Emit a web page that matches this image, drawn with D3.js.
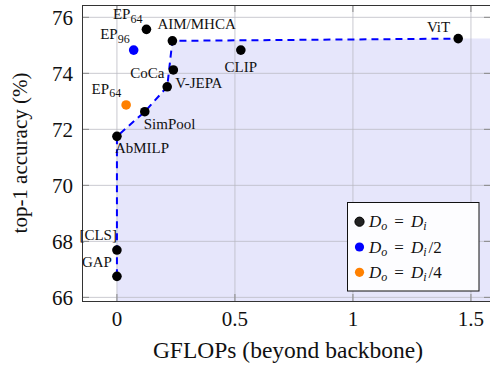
<!DOCTYPE html>
<html>
<head>
<meta charset="utf-8">
<script src="https://cdn.jsdelivr.net/npm/d3@7"></script>
<style>
  html, body { margin: 0; padding: 0; background: #fff; }
  svg { display: block; }
  text { font-family: "Liberation Serif", "Times New Roman", serif; fill: #111; }
</style>
</head>
<body>
<svg id="chart" width="490" height="365"></svg>
<script>
// Pooling methods: extra GFLOPs vs. top-1 accuracy
const names   = ["GAP", "[CLS]", "AbMILP", "SimPool", "V-JEPA", "CoCa", "AIM/MHCA", "CLIP", "ViT", "EP", "EP", "EP"];
const subs    = ["", "", "", "", "", "", "", "", "", "64", "96", "64"];
const gflops  = [0.0, 0.0, 0.0, 0.118, 0.213, 0.239, 0.235, 0.525, 1.446, 0.125, 0.071, 0.039];
const top1    = [66.75, 67.69, 71.75, 72.63, 73.52, 74.12, 75.16, 74.83, 75.24, 75.57, 74.83, 72.87];
const group   = [0, 0, 0, 0, 0, 0, 0, 0, 0, 0, 1, 2];

// Pareto frontier, by index into the arrays above
const frontier = [0, 1, 2, 3, 4, 6, 8];

const xTicks = [0, 0.5, 1, 1.5];
const yTicks = [66, 68, 70, 72, 74, 76];
const legendLabels = [["D", "o", "D", "i", ""], ["D", "o", "D", "i", "/2"], ["D", "o", "D", "i", "/4"]];
const groupColors = ["#000000", "#0000ff", "#ff8000"];

const svg = d3.select("#chart");
const pL = 82, pR = 491, pT = 5, pB = 301;

const x = d3.scaleLinear().domain([-0.148, 1.585]).range([pL, pR]);
const y = d3.scaleLinear().domain([65.87, 76.44]).range([pB, pT]);

svg.append("defs").append("clipPath").attr("id", "plotclip")
  .append("rect").attr("x", pL).attr("y", pT).attr("width", pR - pL).attr("height", pB - pT);

const plot = svg.append("g").attr("clip-path", "url(#plotclip)");

// shaded region under the frontier
const fr = frontier.map(i => [gflops[i], top1[i]]);
const yLow = y.domain()[0], xHigh = x.domain()[1];
const area = [[0, yLow], ...fr, [xHigh, fr[fr.length - 1][1]], [xHigh, yLow]];
plot.append("path")
  .attr("d", d3.line().x(d => x(d[0])).y(d => y(d[1]))(area) + "Z")
  .attr("fill", "#e6e6fb");

// grid
plot.append("g").selectAll("line").data(xTicks).join("line")
  .attr("x1", d => x(d)).attr("x2", d => x(d)).attr("y1", pT).attr("y2", pB)
  .attr("stroke", "#b8b8c0").attr("stroke-opacity", 0.75).attr("stroke-width", 1);
plot.append("g").selectAll("line").data(yTicks).join("line")
  .attr("y1", d => y(d)).attr("y2", d => y(d)).attr("x1", pL).attr("x2", pR)
  .attr("stroke", "#b8b8c0").attr("stroke-opacity", 0.75).attr("stroke-width", 1);

// inward ticks on all four sides
const tl = 7;
const tk = svg.append("g").attr("stroke", "#888").attr("stroke-width", 1);
yTicks.forEach(t => {
  tk.append("line").attr("x1", pL).attr("x2", pL + tl).attr("y1", y(t)).attr("y2", y(t));
  tk.append("line").attr("x1", pR - tl).attr("x2", pR).attr("y1", y(t)).attr("y2", y(t));
});
xTicks.forEach(t => {
  tk.append("line").attr("y1", pB).attr("y2", pB - tl).attr("x1", x(t)).attr("x2", x(t));
  tk.append("line").attr("y1", pT).attr("y2", pT + tl).attr("x1", x(t)).attr("x2", x(t));
});

// frontier line
plot.append("path")
  .attr("d", d3.line().x(d => x(d[0])).y(d => y(d[1]))(fr))
  .attr("fill", "none").attr("stroke", "#0000ff").attr("stroke-width", 2)
  .attr("stroke-dasharray", "7,5");

// frame
svg.append("rect").attr("x", pL + 0.5).attr("y", pT + 0.5)
  .attr("width", pR - pL).attr("height", pB - pT)
  .attr("fill", "none").attr("stroke", "#333").attr("stroke-width", 1);

// points
svg.append("g").selectAll("circle").data(d3.range(names.length)).join("circle")
  .attr("cx", i => x(gflops[i])).attr("cy", i => y(top1[i])).attr("r", 4.8)
  .attr("fill", i => groupColors[group[i]]);

// point labels: [text-anchor, dx, dy (baseline)]
const place = [
  ["end", -5, -9],   // GAP
  ["end", 0, -10],   // [CLS]
  ["start", -2, 17], // AbMILP
  ["start", -1, 17], // SimPool
  ["start", 8, 1],   // V-JEPA
  ["end", -9, 8],    // CoCa
  ["start", -15, -12], // AIM/MHCA
  ["middle", 0, 22], // CLIP
  ["end", -8, -7],   // ViT
  ["end", -4, -10],  // EP64
  ["end", -4, -11],  // EP96
  ["end", -5, -11]   // EP64
];
const lab = svg.append("g").attr("font-size", 15);
d3.range(names.length).forEach(i => {
  const [anchor, dx, dy] = place[i];
  const t = lab.append("text")
    .attr("x", x(gflops[i]) + dx).attr("y", y(top1[i]) + dy)
    .attr("text-anchor", anchor);
  t.append("tspan").text(names[i]);
  if (subs[i]) t.append("tspan").attr("font-size", 12).attr("dy", 3.5).text(subs[i]);
});

// tick labels
svg.append("g").selectAll("text").data(xTicks).join("text")
  .attr("x", d => x(d)).attr("y", 326).attr("text-anchor", "middle")
  .attr("font-size", 21).text(d => d3.format("")(d));
svg.append("g").selectAll("text").data(yTicks).join("text")
  .attr("x", 73).attr("y", d => y(d) + 7.5).attr("text-anchor", "end")
  .attr("font-size", 21).text(d => d);

// axis titles
svg.append("text").attr("x", 288).attr("y", 358).attr("text-anchor", "middle")
  .attr("font-size", 23.5).text("GFLOPs (beyond backbone)");
svg.append("text").attr("transform", "translate(27,153) rotate(-90)")
  .attr("text-anchor", "middle").attr("font-size", 21).text("top-1 accuracy (%)");

// legend
const lg = svg.append("g");
lg.append("rect").attr("x", 347.5).attr("y", 202.5).attr("width", 131.5).attr("height", 88.5)
  .attr("fill", "#fdfdff").attr("stroke", "#111").attr("stroke-width", 1);
legendLabels.forEach((parts, k) => {
  const cy = 221.7 + k * 25.3;
  lg.append("circle").attr("cx", 359.5).attr("cy", cy).attr("r", 4.6)
    .attr("fill", k === 0 ? "#222" : groupColors[k]).attr("stroke", k === 0 ? "#000" : "none");
  const t = lg.append("text").attr("x", 369).attr("y", cy + 5.5).attr("font-size", 17);
  t.append("tspan").attr("font-style", "italic").text(parts[0]);
  t.append("tspan").attr("font-style", "italic").attr("font-size", 12).attr("dy", 3).text(parts[1]);
  t.append("tspan").attr("dy", -3).attr("dx", 7).text("=");
  t.append("tspan").attr("dx", 7).attr("font-style", "italic").text(parts[2]);
  t.append("tspan").attr("font-style", "italic").attr("font-size", 12).attr("dy", 3).text(parts[3]);
  if (parts[4]) t.append("tspan").attr("dy", -3).attr("dx", 2).text(parts[4]);
});
</script>
</body>
</html>
